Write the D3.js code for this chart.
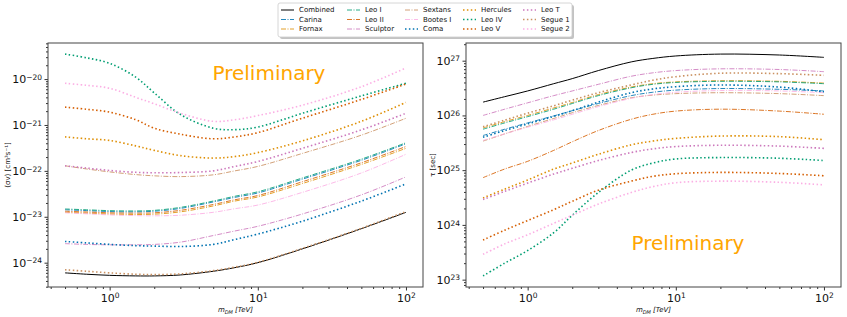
<!DOCTYPE html>
<html>
<head>
<meta charset="utf-8">
<script src="https://cdn.jsdelivr.net/npm/d3@7"></script>
<style>
  body { margin: 0; background: #fff; }
  text { font-family: "DejaVu Sans", sans-serif; }
</style>
</head>
<body>
<div id="chart"></div>
<script>
// dark matter mass grid (TeV)
const masses = [0.5, 0.7, 1, 1.5, 2, 3, 5, 7, 10, 20, 50, 100];

const sources = ["Combined", "Carina", "Fornax", "Leo I", "Leo II", "Sculptor", "Sextans",
  "Bootes I", "Coma", "Hercules", "Leo IV", "Leo V", "Leo T", "Segue 1", "Segue 2"];

// <sigma v> upper limits, cm^3 s^-1
const svCombined = [6.0e-25, 5.6e-25, 5.3e-25, 5.15e-25, 5.15e-25, 5.4e-25, 6.5e-25, 7.8e-25, 1.0e-24, 2.0e-24, 5.5e-24, 1.25e-23];
const svCarina   = [1.42e-23, 1.36e-23, 1.3e-23, 1.28e-23, 1.32e-23, 1.52e-23, 2.1e-23, 2.65e-23, 3.3e-23, 6.6e-23, 1.7e-22, 3.9e-22];
const svFornax   = [1.25e-23, 1.2e-23, 1.15e-23, 1.12e-23, 1.14e-23, 1.28e-23, 1.72e-23, 2.2e-23, 2.7e-23, 5.3e-23, 1.38e-22, 3.1e-22];
const svLeoI     = [1.48e-23, 1.42e-23, 1.36e-23, 1.34e-23, 1.38e-23, 1.6e-23, 2.2e-23, 2.8e-23, 3.5e-23, 7.0e-23, 1.8e-22, 4.1e-22];
const svLeoII    = [1.32e-23, 1.27e-23, 1.22e-23, 1.2e-23, 1.22e-23, 1.38e-23, 1.85e-23, 2.35e-23, 2.9e-23, 5.8e-23, 1.5e-22, 3.4e-22];
const svSculptor = [2.6e-24, 2.5e-24, 2.45e-24, 2.45e-24, 2.5e-24, 2.8e-24, 3.9e-24, 4.9e-24, 6.2e-24, 1.15e-23, 3.0e-23, 7.4e-23];
const svSextans  = [1.29e-22, 1.1e-22, 9.5e-23, 8.3e-23, 7.8e-23, 7.5e-23, 8.2e-23, 1.0e-22, 1.25e-22, 2.4e-22, 6.0e-22, 1.4e-21];
const svBootesI  = [1.22e-23, 1.16e-23, 1.1e-23, 1.06e-23, 1.05e-23, 1.08e-23, 1.25e-23, 1.5e-23, 1.8e-23, 3.4e-23, 9.0e-23, 2.3e-22];
const svComa     = [2.9e-24, 2.7e-24, 2.5e-24, 2.35e-24, 2.3e-24, 2.25e-24, 2.5e-24, 3.2e-24, 4.2e-24, 8.0e-24, 2.2e-23, 5.2e-23];
const svHercules = [5.5e-22, 5.0e-22, 4.6e-22, 3.5e-22, 2.8e-22, 2.15e-22, 1.9e-22, 2.05e-22, 2.5e-22, 4.5e-22, 1.2e-21, 3.1e-21];
const svLeoIV    = [3.5e-20, 2.9e-20, 2.2e-20, 1.1e-20, 5.0e-21, 1.7e-21, 8.5e-22, 7.9e-22, 9.0e-22, 1.8e-21, 4.3e-21, 8.1e-21];
const svLeoV     = [2.45e-21, 2.2e-21, 1.9e-21, 1.3e-21, 8.5e-22, 6.3e-22, 5.0e-22, 5.5e-22, 6.8e-22, 1.4e-21, 3.6e-21, 7.8e-21];
const svLeoT     = [1.29e-22, 1.15e-22, 1.02e-22, 9.3e-23, 9.1e-23, 9.2e-23, 1.0e-22, 1.25e-22, 1.6e-22, 3.1e-22, 7.8e-22, 1.8e-21];
const svSegue1   = [7.0e-25, 6.5e-25, 6.0e-25, 5.6e-25, 5.5e-25, 5.7e-25, 6.7e-25, 8.0e-25, 1.02e-24, 2.05e-24, 5.6e-24, 1.3e-23];
const svSegue2   = [8.1e-21, 7.3e-21, 6.3e-21, 4.0e-21, 2.9e-21, 1.8e-21, 1.2e-21, 1.3e-21, 1.6e-21, 2.7e-21, 6.8e-21, 1.75e-20];

// decay lifetime lower limits, s
const tauCombined = [1.75e26, 2.2e26, 2.8e26, 3.8e26, 4.7e26, 6.6e26, 9.5e26, 1.1e27, 1.22e27, 1.32e27, 1.27e27, 1.15e27];
const tauCarina   = [4.3e25, 5.6e25, 7.3e25, 9.8e25, 1.22e26, 1.65e26, 2.3e26, 2.65e26, 2.9e26, 3.1e26, 3.0e26, 2.8e26];
const tauFornax   = [5.9e25, 7.7e25, 1.0e26, 1.37e26, 1.72e26, 2.4e26, 3.3e26, 3.8e26, 4.1e26, 4.3e26, 4.2e26, 3.9e26];
const tauLeoI     = [5.6e25, 7.3e25, 9.5e25, 1.3e26, 1.65e26, 2.3e26, 3.2e26, 3.7e26, 4.0e26, 4.2e26, 4.1e26, 3.8e26];
const tauLeoII    = [7.3e24, 1.05e25, 1.45e25, 2.3e25, 3.3e25, 5.3e25, 8.5e25, 1.05e26, 1.2e26, 1.3e26, 1.2e26, 1.05e26];
const tauSculptor = [1.0e26, 1.3e26, 1.7e26, 2.3e26, 2.8e26, 3.7e26, 5.2e26, 6.0e26, 6.6e26, 7.1e26, 6.9e26, 6.3e26];
const tauSextans  = [3.4e25, 4.6e25, 6.3e25, 8.8e25, 1.12e26, 1.52e26, 2.1e26, 2.35e26, 2.5e26, 2.6e26, 2.5e26, 2.3e26];
const tauBootesI  = [3.5e25, 4.6e25, 6.1e25, 8.3e25, 1.05e26, 1.45e26, 2.05e26, 2.4e26, 2.65e26, 2.85e26, 2.8e26, 2.6e26];
const tauComa     = [4.0e25, 5.3e25, 7.0e25, 9.6e25, 1.22e26, 1.75e26, 2.6e26, 3.05e26, 3.35e26, 3.6e26, 3.3e26, 2.7e26];
const tauHercules = [3.1e24, 4.5e24, 6.6e24, 1.05e25, 1.35e25, 1.95e25, 2.9e25, 3.4e25, 3.8e25, 4.2e25, 4.1e25, 3.6e25];
const tauLeoIV    = [1.17e23, 2.0e23, 3.4e23, 7.2e23, 1.5e24, 3.9e24, 1.0e25, 1.35e25, 1.6e25, 1.7e25, 1.65e25, 1.5e25];
const tauLeoV     = [5.3e23, 8.0e23, 1.2e24, 1.9e24, 2.7e24, 4.3e24, 6.3e24, 7.7e24, 8.6e24, 9.1e24, 8.7e24, 7.9e24];
const tauLeoT     = [2.9e24, 4.1e24, 5.8e24, 8.5e24, 1.08e25, 1.5e25, 2.1e25, 2.45e25, 2.7e25, 2.85e25, 2.75e25, 2.5e25];
const tauSegue1   = [6.2e25, 8.2e25, 1.1e26, 1.5e26, 1.9e26, 2.6e26, 3.6e26, 4.4e26, 5.1e26, 5.9e26, 5.8e26, 5.4e26];
const tauSegue2   = [2.9e23, 4.5e23, 6.6e23, 1.07e24, 1.5e24, 2.4e24, 3.9e24, 5.0e24, 5.9e24, 6.3e24, 6.0e24, 5.4e24];

const svSeries = [svCombined, svCarina, svFornax, svLeoI, svLeoII, svSculptor, svSextans,
  svBootesI, svComa, svHercules, svLeoIV, svLeoV, svLeoT, svSegue1, svSegue2];
const tauSeries = [tauCombined, tauCarina, tauFornax, tauLeoI, tauLeoII, tauSculptor, tauSextans,
  tauBootesI, tauComa, tauHercules, tauLeoIV, tauLeoV, tauLeoT, tauSegue1, tauSegue2];

// seaborn "colorblind"-like palette, dashdot for classical dwarfs, dotted for ultra-faint
const palette = ["#0173b2", "#de8f05", "#029e73", "#d55e00", "#cc78bc", "#ca9161", "#fbafe4"];
function styleOf(i) {
  if (i === 0) return { color: "#000", dash: null, w: 1, op: 1 };
  if (i <= 7) return { color: palette[i - 1], dash: "5,1.5,1,1.5", w: 1, op: 0.85 };
  return { color: palette[i - 8], dash: "1.5,2.4", w: 1.6, op: 1 };
}

const W = 847, H = 317;
const svg = d3.select("#chart").append("svg").attr("width", W).attr("height", H);

const plotTop = 43, plotBottom = 287;

function logPad(lo, hi) {
  const a = Math.log10(lo), b = Math.log10(hi), p = (b - a) * 0.05;
  return [Math.pow(10, a - p), Math.pow(10, b + p)];
}

function expLabel(sel, e) {
  sel.text(null);
  sel.append("tspan").text("10");
  sel.append("tspan").attr("dy", "-0.45em").attr("font-size", 7.5)
    .text(e < 0 ? "\u2212" + (-e) : e);
}

function minorVals(dom) {
  const out = [];
  for (let e = Math.floor(Math.log10(dom[0])); e <= Math.ceil(Math.log10(dom[1])); e++) {
    for (let k = 2; k <= 9; k++) {
      const v = k * Math.pow(10, e);
      if (v >= dom[0] && v <= dom[1]) out.push(v);
    }
  }
  return out;
}

function panel(left, right, series, yLabel, prelim) {
  const g = svg.append("g");
  const x = d3.scaleLog().domain(logPad(0.5, 100)).range([left, right]);
  const allV = series.flat();
  const y = d3.scaleLog().domain(logPad(d3.min(allV), d3.max(allV))).range([plotBottom, plotTop]);

  const line = d3.line()
    .x((d, i) => x(masses[i]))
    .y(d => y(d))
    .curve(d3.curveCatmullRom.alpha(0.5));

  const clip = "clip" + left;
  svg.append("clipPath").attr("id", clip).append("rect")
    .attr("x", left).attr("y", plotTop).attr("width", right - left).attr("height", plotBottom - plotTop);

  g.append("g").attr("clip-path", "url(#" + clip + ")")
    .selectAll("path").data(series).enter().append("path")
    .attr("fill", "none")
    .attr("stroke", (d, i) => styleOf(i).color)
    .attr("stroke-width", (d, i) => styleOf(i).w)
    .attr("stroke-dasharray", (d, i) => styleOf(i).dash)
    .attr("stroke-opacity", (d, i) => styleOf(i).op)
    .attr("d", line);

  // x axis
  const xa = g.append("g").attr("transform", "translate(0," + plotBottom + ")")
    .call(d3.axisBottom(x).tickValues([1, 10, 100]).tickSize(3.5).tickPadding(3.5).tickSizeOuter(0));
  xa.selectAll("text").attr("font-size", 11).each(function (d) { expLabel(d3.select(this), Math.round(Math.log10(d))); });
  g.append("g").attr("transform", "translate(0," + plotBottom + ")")
    .call(d3.axisBottom(x).tickValues(minorVals(x.domain())).tickSize(2).tickFormat("").tickSizeOuter(0));

  // y axis
  const yd = y.domain();
  const majors = d3.range(Math.ceil(Math.log10(yd[0])), Math.floor(Math.log10(yd[1])) + 1).map(e => Math.pow(10, e));
  const ya = g.append("g").attr("transform", "translate(" + left + ",0)")
    .call(d3.axisLeft(y).tickValues(majors).tickSize(3.5).tickPadding(2.5).tickSizeOuter(0));
  ya.selectAll("text").attr("font-size", 11).each(function (d) { expLabel(d3.select(this), Math.round(Math.log10(d))); });
  g.append("g").attr("transform", "translate(" + left + ",0)")
    .call(d3.axisLeft(y).tickValues(minorVals(yd)).tickSize(2).tickFormat("").tickSizeOuter(0));

  g.selectAll(".domain").remove();
  g.selectAll(".tick line").attr("stroke", "#333");
  g.selectAll(".tick text").attr("fill", "#111").attr("font-family", "DejaVu Sans");

  g.append("rect").attr("x", left).attr("y", plotTop).attr("width", right - left).attr("height", plotBottom - plotTop)
    .attr("fill", "none").attr("stroke", "#444").attr("stroke-width", 1);

  // axis labels
  const xl = g.append("text").attr("x", (left + right) / 2).attr("y", 312)
    .attr("text-anchor", "middle").attr("font-size", 7).attr("font-style", "italic").attr("fill", "#111");
  xl.append("tspan").text("m");
  xl.append("tspan").attr("font-size", 5).attr("dy", 1.5).text("DM");
  xl.append("tspan").attr("dy", -1.5).text(" [TeV]");

  g.append("text").attr("transform", "translate(" + yLabel.x + "," + (plotTop + plotBottom) / 2 + ") rotate(-90)")
    .attr("text-anchor", "middle").attr("font-size", 7).attr("fill", "#111")
    .text(yLabel.text);

  g.append("text").attr("x", prelim.x).attr("y", prelim.y).attr("text-anchor", "middle")
    .attr("font-size", 20).attr("fill", "#ffa500").text("Preliminary");
}

panel(48, 423, svSeries, { x: 10, text: "\u27e8\u03c3v\u27e9 [cm\u00b3s\u207b\u00b9]" }, { x: 269, y: 80 });
panel(466, 841, tauSeries, { x: 435, text: "\u03c4 [sec]" }, { x: 688, y: 250 });

// legend
const lg = svg.append("g");
const lx = 278, ly = 3, lw = 294, lh = 34;
lg.append("rect").attr("x", lx + 2).attr("y", ly + 2).attr("width", lw).attr("height", lh)
  .attr("rx", 2).attr("fill", "#888").attr("opacity", 0.5);
lg.append("rect").attr("x", lx).attr("y", ly).attr("width", lw).attr("height", lh)
  .attr("rx", 2).attr("fill", "#fff").attr("stroke", "#ccc").attr("stroke-width", 0.8);
const colX = [281, 347, 405, 463, 523];
const rowY = [10, 19.5, 29];
sources.forEach((name, i) => {
  const c = Math.floor(i / 3), r = i % 3, s = styleOf(i);
  const item = lg.append("g").attr("transform", "translate(" + colX[c] + "," + rowY[r] + ")");
  item.append("line").attr("x1", 0).attr("x2", 13).attr("y1", 0).attr("y2", 0)
    .attr("stroke", s.color).attr("stroke-width", s.w).attr("stroke-opacity", s.op)
    .attr("stroke-dasharray", s.dash);
  item.append("text").attr("x", 18).attr("y", 0).attr("dy", "0.35em")
    .attr("font-size", 7).attr("fill", "#111").text(name);
});
</script>
</body>
</html>
